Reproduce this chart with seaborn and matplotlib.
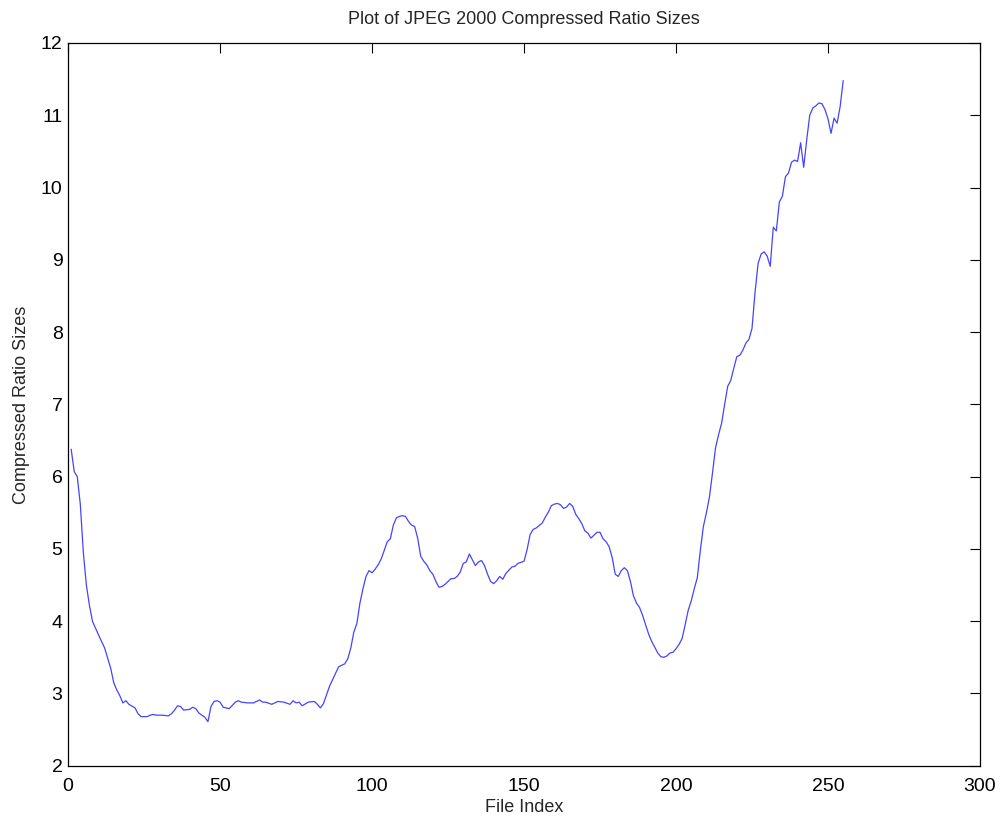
import matplotlib
matplotlib.use("Agg")
import matplotlib.pyplot as plt
import seaborn as sns
import pandas as pd

# File index and compressed ratio
file_index = [
    1, 2, 3, 4, 5, 6, 7, 8, 10, 12, 14, 15, 16, 17, 18, 19, 20, 22, 23, 24,
    26, 27, 28, 29, 31, 33, 34, 35, 36, 37, 38, 40, 41, 42, 43, 45, 46, 47, 48, 49,
    50, 51, 53, 55, 56, 57, 59, 61, 63, 64, 65, 67, 69, 71, 73, 74, 75, 76, 77, 79,
    81, 82, 83, 84, 86, 88, 89, 91, 92, 93, 94, 95, 96, 97, 98, 99, 100, 101, 102, 103,
    104, 105, 106, 107, 108, 109, 110, 111, 112, 113, 114, 115, 116, 117, 118, 119, 120, 121, 122, 123,
    124, 125, 126, 127, 128, 129, 130, 131, 132, 133, 134, 135, 136, 137, 138, 139, 140, 141, 142, 143,
    144, 146, 147, 148, 150, 151, 152, 153, 154, 156, 157, 158, 159, 160, 161, 162, 163, 164, 165, 166,
    167, 168, 169, 170, 171, 172, 173, 174, 175, 176, 177, 178, 179, 180, 181, 182, 183, 184, 185, 186,
    187, 188, 189, 190, 191, 192, 193, 194, 195, 196, 197, 198, 199, 200, 201, 202, 203, 204, 205, 206,
    207, 208, 209, 210, 211, 212, 213, 214, 215, 216, 217, 218, 219, 220, 221, 222, 223, 224, 225, 226,
    227, 228, 229, 230, 231, 232, 233, 234, 235, 236, 237, 238, 239, 240, 241, 242, 243, 244, 245, 246,
    247, 248, 249, 250, 251, 252, 253, 254, 255,
]
ratio = [
    6.38, 6.07, 6.00, 5.62, 4.95, 4.50, 4.22, 4.00, 3.81, 3.63, 3.35, 3.15, 3.05, 2.97, 2.87, 2.90, 2.85, 2.80, 2.72, 2.68,
    2.68, 2.70, 2.71, 2.70, 2.70, 2.69, 2.72, 2.77, 2.83, 2.82, 2.77, 2.78, 2.81, 2.79, 2.73, 2.67, 2.61, 2.82, 2.89, 2.90,
    2.88, 2.81, 2.79, 2.88, 2.90, 2.88, 2.87, 2.87, 2.91, 2.88, 2.88, 2.85, 2.89, 2.88, 2.85, 2.90, 2.87, 2.88, 2.83, 2.88,
    2.89, 2.85, 2.80, 2.86, 3.10, 3.28, 3.37, 3.41, 3.48, 3.63, 3.85, 3.97, 4.25, 4.45, 4.62, 4.70, 4.67, 4.72, 4.78, 4.86,
    4.98, 5.10, 5.14, 5.33, 5.43, 5.45, 5.46, 5.45, 5.38, 5.33, 5.31, 5.15, 4.90, 4.83, 4.78, 4.70, 4.65, 4.55, 4.47, 4.48,
    4.51, 4.55, 4.59, 4.59, 4.62, 4.68, 4.80, 4.82, 4.93, 4.85, 4.77, 4.82, 4.84, 4.77, 4.65, 4.55, 4.52, 4.56, 4.62, 4.58,
    4.66, 4.75, 4.76, 4.80, 4.83, 4.99, 5.20, 5.27, 5.29, 5.36, 5.44, 5.51, 5.60, 5.62, 5.63, 5.61, 5.56, 5.58, 5.63, 5.59,
    5.48, 5.42, 5.35, 5.25, 5.22, 5.15, 5.19, 5.23, 5.23, 5.14, 5.10, 5.03, 4.88, 4.65, 4.62, 4.70, 4.74, 4.70, 4.55, 4.35,
    4.25, 4.19, 4.08, 3.95, 3.82, 3.72, 3.64, 3.56, 3.51, 3.50, 3.52, 3.56, 3.57, 3.62, 3.68, 3.76, 3.95, 4.15, 4.28, 4.45,
    4.60, 4.98, 5.31, 5.50, 5.72, 6.05, 6.40, 6.58, 6.74, 7.00, 7.25, 7.33, 7.50, 7.66, 7.68, 7.75, 7.85, 7.90, 8.05, 8.55,
    8.95, 9.08, 9.11, 9.05, 8.91, 9.45, 9.40, 9.80, 9.88, 10.15, 10.20, 10.35, 10.38, 10.36, 10.62, 10.28, 10.66, 11.00, 11.10, 11.13,
    11.17, 11.16, 11.08, 10.95, 10.75, 10.96, 10.89, 11.12, 11.48,
]

df = pd.DataFrame({"File Index": file_index, "Compressed Ratio Sizes": ratio})

sns.set_style("white")
plt.rcParams["font.family"] = ["Liberation Sans", "DejaVu Sans"]

fig = plt.figure(figsize=(10.02, 8.19), dpi=100)
ax = fig.add_axes([0.068, 0.065, 0.910, 0.8825])

sns.lineplot(data=df, x="File Index", y="Compressed Ratio Sizes", ax=ax,
             color="#4444ff", linewidth=0.9)

ax.set_xlim(0, 300)
ax.set_ylim(2, 12)
ax.set_xticks(range(0, 301, 50))
ax.set_yticks(range(2, 13))
ax.tick_params(direction="in", length=7, width=0.8, top=True, right=True,
               labelsize=14, colors="black")
ax.tick_params(axis="x", pad=9)
ax.tick_params(axis="y", pad=4)
for side in ax.spines.values():
    side.set_color("black")
    side.set_linewidth(0.9)

ax.set_title("Plot of JPEG 2000 Compressed Ratio Sizes", fontsize=13, pad=14)
ax.set_xlabel("File Index", fontsize=13, labelpad=3)
ax.set_ylabel("Compressed Ratio Sizes", fontsize=13, labelpad=8)

fig.savefig("out.png", dpi=100)
